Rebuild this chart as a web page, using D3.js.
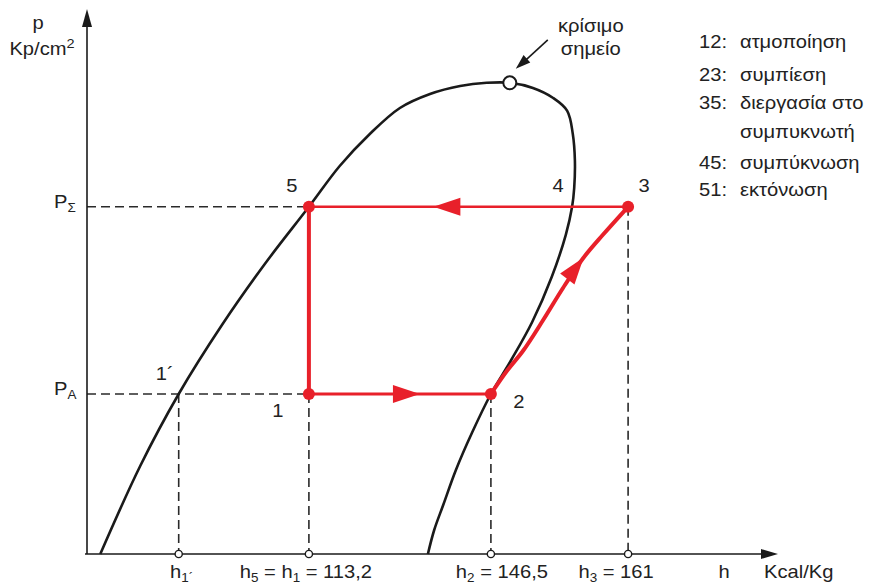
<!DOCTYPE html>
<html><head><meta charset="utf-8">
<script src="https://cdn.jsdelivr.net/npm/d3@7"></script>
<style>
body{margin:0;background:#fff}
svg{display:block}
text{font-family:"Liberation Sans",Arial,Helvetica,sans-serif;fill:#222;font-size:18px}
</style>
</head><body><svg id="c" width="872" height="584"></svg>
<script>
// schematic units: h (enthalpy, schematic), p (pressure, schematic)
const liquidLine = [[1.9,0],[7.6,2.2],[13.1,4.0],[19.3,5.73],[25.4,7.25],[31.7,8.68],[36.1,9.7],[40.4,10.5],[44.7,11.15],[49.0,11.5],[53.3,11.7],[57.1,11.78]];
const criticalPoint = [60.4, 11.78];
const vaporLine = [[63.7,11.65],[66.6,11.4],[68.6,11.08],[69.4,10.5],[69.7,9.83],[69.6,9.15],[69.3,8.68],[68.4,7.98],[66.4,6.93],[63.6,5.8],[60.6,4.85],[57.7,4.0],[55.0,3.03],[52.7,2.1],[50.9,1.23],[49.6,0.6],[48.7,0]];
const compressionLine = [[57.7,4.0],[60.0,4.58],[62.3,5.08],[65.1,5.83],[68.0,6.65],[70.9,7.4],[73.7,7.98],[77.3,8.68]];
const pressureLevels = [{sub:"Σ", p:8.68},{sub:"A", p:4.0}];
const statePoints = {"1":[31.7,4.0],"2":[57.7,4.0],"3":[77.3,8.68],"5":[31.7,8.68],"4":[69.3,8.68],"1´":[13.1,4.0]};
const dotPoints = ["1","2","3","5"];
const hTicks = [
  {pt:"1´", parts:[["h",""],["1´","sub"]]},
  {pt:"1", parts:[["h",""],["5","sub"],[" = h",""],["1","sub"],[" = 113,2",""]]},
  {pt:"2", parts:[["h",""],["2","sub"],[" = 146,5",""]]},
  {pt:"3", parts:[["h",""],["3","sub"],[" = 161",""]]}
];
const legendCodes = ["12:","23:","35:","","45:","51:"];
const legendTexts = ["ατμοποίηση","συμπίεση","διεργασία στο","συμπυκνωτή","συμπύκνωση","εκτόνωση"];
const criticalLabel = ["κρίσιμο","σημείο"];

const svg = d3.select("#c");
const x = d3.scaleLinear().domain([0,100]).range([87,787]);
const y = d3.scaleLinear().domain([0,13.5]).range([554,14]);
const RED = "#e8202a", INK = "#1a1a1a", SX = 1.12;
function label(px, py, anchor){
  return svg.append("text").attr("transform",`translate(${px},${py}) scale(${SX},1)`).attr("text-anchor",anchor||"start");
}

// dashed guide lines
const g = svg.append("g").attr("stroke","#2a2a2a").attr("stroke-width",1.6).attr("stroke-dasharray","9,5").attr("fill","none");
g.append("line").attr("x1",x(0)).attr("x2",x(statePoints["5"][0])).attr("y1",y(pressureLevels[0].p)).attr("y2",y(pressureLevels[0].p));
g.append("line").attr("x1",x(0)).attr("x2",x(statePoints["1"][0])).attr("y1",y(pressureLevels[1].p)).attr("y2",y(pressureLevels[1].p));
hTicks.forEach(t=>{const s=statePoints[t.pt];
  g.append("line").attr("x1",x(s[0])).attr("x2",x(s[0])).attr("y1",y(s[1])).attr("y2",y(0));});

// axes
const ax = svg.append("g").attr("stroke",INK).attr("stroke-width",1.6);
ax.append("line").attr("x1",x(0)).attr("x2",x(0)).attr("y1",y(0)).attr("y2",24);
ax.append("line").attr("x1",x(0)-2).attr("x2",764).attr("y1",y(0)).attr("y2",y(0));
svg.append("path").attr("d",`M${x(0)},9 L${x(0)-5},27 L${x(0)+5},27 Z`).attr("fill",INK);
svg.append("path").attr("d",`M778,${y(0)} L761,${y(0)-5} L761,${y(0)+5} Z`).attr("fill",INK);

// saturation dome
const dome = liquidLine.concat([criticalPoint], vaporLine);
const line = d3.line().x(d=>x(d[0])).y(d=>y(d[1])).curve(d3.curveCatmullRom.alpha(0.5));
svg.append("path").attr("d",line(dome)).attr("fill","none").attr("stroke",INK).attr("stroke-width",2.6);

// cycle
const P = k=>statePoints[k];
const straight = d3.line().x(d=>x(d[0])).y(d=>y(d[1]));
const segs = [
  {pts:[P("1"),P("2")], w:3, gen:straight, arrow:0.61},
  {pts:compressionLine, w:4, gen:line, arrow:0.71},
  {pts:[P("3"),P("5")], w:2.5, gen:straight, arrow:0.61},
  {pts:[P("5"),P("1")], w:4, gen:straight, arrow:null}
];
segs.forEach(s=>{
  const path = svg.append("path").attr("d",s.gen(s.pts)).attr("fill","none").attr("stroke",RED).attr("stroke-width",s.w);
  if(s.arrow!==null){
    const node = path.node(), L = node.getTotalLength(), l = L*s.arrow;
    const a = node.getPointAtLength(l-1), b = node.getPointAtLength(l+1);
    const ang = Math.atan2(b.y-a.y,b.x-a.x)*180/Math.PI;
    const tip = node.getPointAtLength(l);
    svg.append("path").attr("d","M0,0 L-27,-9 L-27,9 Z").attr("fill",RED)
      .attr("transform",`translate(${tip.x},${tip.y}) rotate(${ang})`);
  }
});
svg.selectAll("circle.dot").data(dotPoints).join("circle").attr("class","dot")
  .attr("cx",d=>x(P(d)[0])).attr("cy",d=>y(P(d)[1])).attr("r",6).attr("fill",RED);

// axis tick circles
svg.selectAll("circle.tk").data(hTicks).join("circle").attr("class","tk")
  .attr("cx",d=>x(P(d.pt)[0])).attr("cy",y(0)).attr("r",3.6).attr("fill","#fff").attr("stroke",INK).attr("stroke-width",1.4);

// critical point
const cx = x(criticalPoint[0]), cy = y(criticalPoint[1]);
svg.append("line").attr("x1",cx+38).attr("y1",cy-43).attr("x2",cx+14).attr("y2",cy-21).attr("stroke",INK).attr("stroke-width",1.6);
svg.append("path").attr("d","M0,0 L-15,-5 L-15,5 Z").attr("fill",INK)
  .attr("transform",`translate(${cx+6},${cy-14}) rotate(${Math.atan2(29,-32)*180/Math.PI})`);
svg.append("circle").attr("cx",cx).attr("cy",cy).attr("r",6.5).attr("fill","#fff").attr("stroke",INK).attr("stroke-width",2);
criticalLabel.forEach((t,i)=>label(cx+81, 32+i*23, "middle").text(t));

// y axis labels
label(38,29,"middle").text("p");
const ku = label(42,55,"middle");
ku.append("tspan").text("Kp/cm");
ku.append("tspan").attr("font-size","13px").attr("dy",-7).text("2");
pressureLevels.forEach(l=>{
  const t = label(54, y(l.p)+1);
  t.append("tspan").text("P");
  t.append("tspan").attr("font-size","12px").attr("dy",4).text(l.sub);
});

// point labels
const ptLabels = [["5",-17,-15],["4",-14,-15],["3",16,-15],["1",-31,23],["2",28,14],["1´",-14,-14]];
ptLabels.forEach(([k,dx,dy])=>label(x(P(k)[0])+dx, y(P(k)[1])+dy, "middle").text(k));

// h tick labels
const tickDx = [3,-3,11,-12];
hTicks.forEach((t,i)=>{
  const tx = label(x(P(t.pt)[0])+tickDx[i], 578, "middle");
  let shifted = false;
  t.parts.forEach(([s,kind])=>{
    if(kind==="sub"){ tx.append("tspan").attr("font-size","12px").attr("dy",4).text(s); shifted=true; }
    else { tx.append("tspan").attr("dy",shifted?-4:0).text(s); shifted=false; }
  });
});
label(724,578,"middle").text("h");
label(764,578).text("Kcal/Kg");

// legend
legendTexts.forEach((t,i)=>{
  const yy = [48,81,109,138,169,196][i];
  if(legendCodes[i]) label(699,yy).text(legendCodes[i]);
  label(740,yy).text(t);
});
</script>
</body></html>
